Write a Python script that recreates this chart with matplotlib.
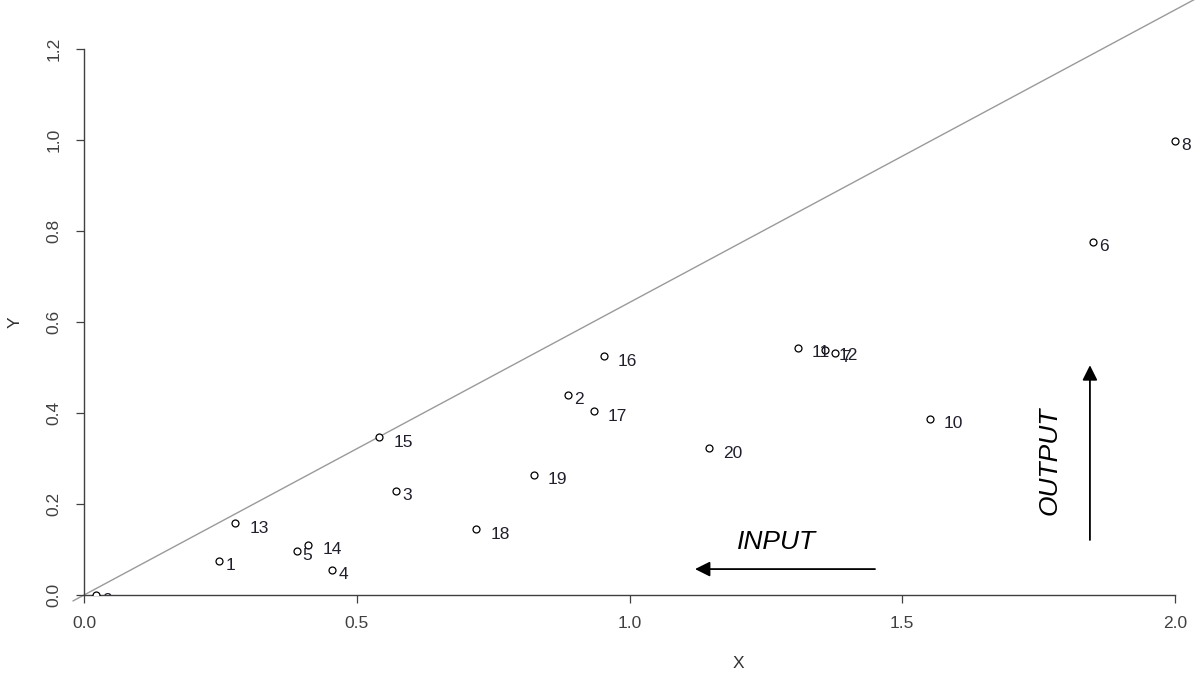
import matplotlib
matplotlib.use("Agg")
import matplotlib.pyplot as plt
from matplotlib.transforms import offset_copy

plt.rcParams['font.family'] = ['Liberation Sans', 'DejaVu Sans']

# Data
labels = ["1", "2", "3", "4", "5", "6", "7", "8", "9", "10",
          "11", "12", "13", "14", "15", "16", "17", "18", "19", "20"]
x_vals = [0.248, 0.887, 0.572, 0.455, 0.390, 1.850, 1.377, 2.000, 0.022, 1.551,
          1.309, 1.358, 0.277, 0.411, 0.541, 0.953, 0.935, 0.719, 0.825, 1.146]
y_vals = [0.075, 0.440, 0.229, 0.055, 0.097, 0.776, 0.532, 0.998, 0.000, 0.387,
          0.543, 0.538, 0.158, 0.110, 0.347, 0.525, 0.404, 0.145, 0.264, 0.323]
line_slope = 0.643
x_ticks = [0.0, 0.5, 1.0, 1.5, 2.0]
y_ticks = [0.0, 0.2, 0.4, 0.6, 0.8, 1.0, 1.2]
input_arrow = (1.45, 1.12, 0.057)    # x start, x end, y
output_arrow = (1.844, 0.121, 0.505)  # x, y start, y end

fig = plt.figure(figsize=(11.99, 6.77), dpi=100)
ax = fig.add_axes([0.061, 0.1211, 0.9372, 0.8737])
ax.set_xlim(-0.02, 2.04)
ax.set_ylim(0.0, 1.30)

# reference line (extends a little past the origin)
ax.plot([-0.02, 2.04], [-0.02 * line_slope, 2.04 * line_slope], color="#9a9a9a", lw=1.0,
        zorder=1, clip_on=False)

# points
ax.plot(x_vals, y_vals, linestyle="none", marker="o", markersize=5,
        markerfacecolor="white", markeredgecolor="black", markeredgewidth=0.9, zorder=3)

for lab, xv, yv in zip(labels, x_vals, y_vals):
    dx = 6 + 8 * (len(lab) - 1)
    tr = offset_copy(ax.transData, fig=fig, x=dx * 0.72, y=-5 * 0.72, units='points')
    ax.text(xv, yv, lab, transform=tr, ha="left", va="center", fontsize=12.5,
            color="#20202c", zorder=4, clip_on=True)

# arrows
ax.annotate("", xy=(input_arrow[1], input_arrow[2]), xytext=(input_arrow[0], input_arrow[2]),
            arrowprops=dict(arrowstyle="-|>,head_length=0.9,head_width=0.45", color="black", lw=1.3,
                            shrinkA=0, shrinkB=0))
ax.annotate("", xy=(output_arrow[0], output_arrow[2]), xytext=(output_arrow[0], output_arrow[1]),
            arrowprops=dict(arrowstyle="-|>,head_length=0.9,head_width=0.45", color="black", lw=1.3,
                            shrinkA=0, shrinkB=0))
ax.text(1.270, 0.116, "INPUT", fontsize=19, style="italic", ha="center", va="center", color="black")
ax.text(1.770, 0.296, "OUTPUT", fontsize=19, style="italic", ha="center", va="center",
        rotation=90, color="black")

# axes styling
for s in ["top", "right"]:
    ax.spines[s].set_visible(False)
ax.spines["left"].set_position(("data", 0))
ax.spines["bottom"].set_position(("data", 0))
ax.spines["left"].set_bounds(0, 1.2)
ax.spines["bottom"].set_bounds(0, 2.0)
for s in ["left", "bottom"]:
    ax.spines[s].set_color("#404040")
    ax.spines[s].set_linewidth(1.0)
ax.set_xticks(x_ticks)
ax.set_xticklabels([f"{t:.1f}" for t in x_ticks])
ax.set_yticks(y_ticks)
ax.set_yticklabels([f"{t:.1f}" for t in y_ticks], rotation=90, va="center")
ax.tick_params(axis="both", direction="out", length=6, width=0.9, color="#404040",
               labelsize=12.5, labelcolor="#404040")
ax.tick_params(axis="x", pad=9)
ax.tick_params(axis="y", pad=10)

fig.text(738 / 1199, 1 - 663 / 677, "X", fontsize=12.5, ha="center", va="center", color="#303030")
fig.text(15 / 1199, 1 - 322 / 677, "Y", fontsize=12.5, ha="center", va="center", rotation=90,
         color="#303030")

fig.savefig("out.png", dpi=100)
